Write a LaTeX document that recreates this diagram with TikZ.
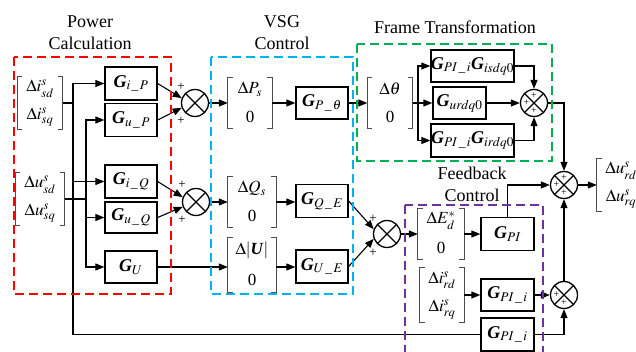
\documentclass[tikz,border=0pt]{standalone}
\usepackage{amsmath}
\usepackage{mathptmx}
\usepackage{fontspec}
\setmainfont{Liberation Serif}
\usetikzlibrary{arrows.meta,calc}
\newcommand{\Gb}{\textbf{\textit{G}}}
\newcommand{\Ub}{\textbf{\textit{U}}}
\newcommand{\us}{\,\_\,}
\newcommand{\brmat}[7]{%
 \node[minimum width=#4, minimum height=#5] (#1) at (#2,#3) {};
 \draw[brk] ([xshift=5pt]#1.north west) -- (#1.north west) -- (#1.south west) -- ([xshift=5pt]#1.south west);
 \draw[brk] ([xshift=-5pt]#1.north east) -- (#1.north east) -- (#1.south east) -- ([xshift=-5pt]#1.south east);
 \node[entry] (#1-t) at ([yshift=#5/4+1]#1.center) {#6};
 \node[entry] (#1-b) at ([yshift=-#5/4-1]#1.center) {#7};
}
\definecolor{gred}{RGB}{255,0,0}
\definecolor{gcyan}{RGB}{0,176,240}
\definecolor{ggreen}{RGB}{0,176,80}
\definecolor{gpurple}{RGB}{112,48,160}
\begin{document}
\begin{tikzpicture}[x=1pt,y=-1pt,
 every node/.style={font=\fontsize{18}{21}\selectfont, inner sep=0pt},
 entry/.style={font=\fontsize{17}{20}\selectfont},
 blk/.style={draw, line width=1.3pt, minimum height=33pt, minimum width=52pt},
 conn/.style={line width=1.1pt},
 arr/.style={conn, -{Triangle[length=9pt,width=7pt]}},
 brk/.style={line width=0.8pt, draw=black!70},
 sumn/.style={circle, draw, line width=1.3pt, minimum size=27pt,
   path picture={\draw[line width=1.1pt] (path picture bounding box.north west) -- (path picture bounding box.south east) (path picture bounding box.north east) -- (path picture bounding box.south west);}},
 pl/.style={font=\fontsize{13}{14}\selectfont},
 ipl/.style={font=\fontsize{10}{11}\selectfont},
 grp/.style={dash pattern=on 9pt off 5pt, line width=1.4pt},
 ttl/.style={align=center, font=\fontsize{18}{22}\selectfont}
]
\useasboundingbox (0,0) rectangle (636,352);

% titles
\node[ttl] (tPC) at (90,33) {Power\\Calculation};
\node[ttl] (tVSG) at (282,33) {VSG\\Control};
\node[ttl] (tFT) at (455,27) {Frame Transformation};
\node[ttl] (tFB) at (472,184) {Feedback\\Control};

% power calculation
\brmat{mIs}{40}{103}{45}{53}{$\Delta i^{s}_{sd}$}{$\Delta i^{s}_{sq}$}
\brmat{mUs}{40}{199}{49}{53}{$\Delta u^{s}_{sd}$}{$\Delta u^{s}_{sq}$}
\node[blk] (giP) at (131,83.5) {\Gb$_{i\us P}$};
\node[blk] (guP) at (131,120) {\Gb$_{u\us P}$};
\node[blk] (giQ) at (131,181.5) {\Gb$_{i\us Q}$};
\node[blk, minimum height=31pt] (guQ) at (131,217.5) {\Gb$_{u\us Q}$};
\node[blk, minimum height=32pt] (gU) at (131,267) {\Gb$_{U}$};
\coordinate (bi) at (73,103);
\coordinate (bu) at (86,199);
\draw[conn] (mIs.east) -- (bi);
\draw[arr] (bi) |- (giP.west);
\draw[arr] (bi) |- (giQ.west);
\draw[conn] (mUs.east) -- (bu);
\draw[arr] (bu) |- (guP.west);
\draw[arr] (bu) |- (guQ.west);
\draw[arr] (bu) |- (gU.west);

\node[sumn] (s1) at (195,103) {};
\node[sumn] (s2) at (196,202) {};
\draw[arr] (giP.east) -- (s1.160);
\draw[arr] (guP.east) -- (s1.200);
\draw[arr] (giQ.east) -- (s2.160);
\draw[arr] (guQ.east) -- (s2.200);
\node[pl] (s1pa) at (181,87) {+};
\node[pl] (s1pb) at (181,121) {+};
\node[pl] (s2pa) at (182,185) {+};
\node[pl] (s2pb) at (182,220) {+};

% VSG control
\brmat{mP}{250}{103}{44}{50}{$\Delta P_{s}$}{0}
\brmat{mQ}{252}{202}{48}{51}{$\Delta Q_{s}$}{0}
\brmat{mU}{252}{265}{48}{54}{$\Delta|\text{\Ub}|$}{0}
\node[blk, minimum height=32pt] (gPt) at (322,103) {\Gb$_{P\us\theta}$};
\node[blk] (gQE) at (322,201) {\Gb$_{Q\us E}$};
\node[blk] (gUE) at (322,266.5) {\Gb$_{U\us E}$};
\draw[arr] (s1.east) -- (mP.west);
\draw[arr] (mP.east) -- (gPt.west);
\draw[arr] (s2.east) -- (mQ.west);
\draw[arr] (mQ.east) -- (mQ.east -| gQE.west);
\draw[arr] (gU.east) -- (gU.east -| mU.west);
\draw[arr] (gU.east -| mU.east) -- (gU.east -| gUE.west);

\node[sumn] (s5) at (387,234) {};
\draw[arr] (gQE.east) -- (s5.160);
\draw[arr] (gUE.east) -- (s5.200);
\node[pl] (s5pa) at (373,219) {+};
\node[pl] (s5pb) at (373,253) {+};

% frame transformation
\brmat{mTh}{390}{103}{45}{51}{$\Delta\theta$}{0}
\draw[arr] (gPt.east) -- (mTh.west);
\coordinate (bth) at (418,103);
\node[blk, minimum width=79pt, minimum height=32pt] (gA) at (472.5,66) {\Gb$_{PI\us i}$\Gb$_{isdq0}$};
\node[blk, minimum width=53pt, minimum height=32pt] (gB) at (459.5,103) {\Gb$_{urdq0}$};
\node[blk, minimum width=79pt] (gC) at (472.5,140.5) {\Gb$_{PI\us i}$\Gb$_{irdq0}$};
\draw[conn] (mTh.east) -- (bth);
\draw[arr] (bth) |- (gA.west);
\draw[arr] (bth) -- (gB.west);
\draw[arr] (bth) |- (gC.west);
\node[sumn] (s3) at (534,103) {};
\draw[arr] (gA.east) -| (s3.north);
\draw[arr] (gB.east) -- (s3.west);
\draw[arr] (gC.east) -| (s3.south);
\node[ipl] (s3pa) at ([yshift=7.5pt]s3.center) {+};
\node[ipl] (s3pb) at ([xshift=-7.5pt]s3.center) {+};
\node[ipl] (s3pc) at ([yshift=-7.5pt]s3.center) {+};

% output summer
\node[sumn] (s4) at (564,185) {};
\draw[arr] (s3.east) -| (s4.north);
\brmat{mUr}{621}{185}{48}{53}{$\Delta u^{s}_{rd}$}{$\Delta u^{s}_{rq}$}
\draw[arr] (s4.east) -- (mUr.west);
\node[ipl] (s4pa) at ([yshift=7.5pt]s4.center) {+};
\node[ipl] (s4pb) at ([xshift=-7.5pt]s4.center) {+};
\node[ipl] (s4pc) at ([yshift=-7.5pt]s4.center) {+};

% feedback control
\brmat{mE}{441}{234}{46}{50}{$\Delta E^{*}_{d}$}{0}
\node[blk, minimum width=53pt] (gPI) at (507.5,234) {\Gb$_{PI}$};
\draw[arr] (s5.east) -- (mE.west);
\draw[arr] (mE.east) -- (gPI.west);
\draw[arr] (gPI.north) |- (s4.west);
\brmat{mIr}{442}{295}{44}{54}{$\Delta i^{s}_{rd}$}{$\Delta i^{s}_{rq}$}
\node[blk, minimum width=53pt, minimum height=32pt] (gPIi) at (507.5,295) {\Gb$_{PI\us i}$};
\node[sumn] (s6) at (564,295) {};
\draw[arr] (mIr.east) -- (gPIi.west);
\draw[arr] (gPIi.east) -- (s6.west);
\node[ipl] (s6pa) at ([xshift=-7.5pt]s6.center) {+};
\node[ipl] (s6pb) at ([yshift=-7.5pt]s6.center) {+};
\node[blk, minimum width=53pt] (gPIb) at (507.5,334.5) {\Gb$_{PI\us i}$};
\draw[conn] (bi) |- (gPIb.west);
\draw[arr] (gPIb.east) -| (s6.south);
\draw[arr] (s6.north) -- (s4.south);

% dashed groups
\draw[grp, draw=gred] (14,57) rectangle (171,294);
\draw[grp, draw=gcyan] (211,57) rectangle (353,294);
\draw[grp, draw=ggreen] (357,44) rectangle (552,161);
\draw[grp, draw=gpurple] (405,205) rectangle (543,372);
\end{tikzpicture}
\end{document}
